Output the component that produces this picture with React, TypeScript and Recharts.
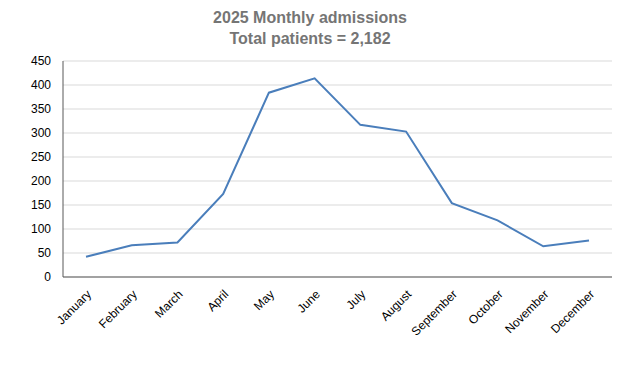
import React from "react";
import { CartesianGrid, Line, LineChart, XAxis, YAxis } from "recharts";

const months = [
  "January", "February", "March", "April", "May", "June",
  "July", "August", "September", "October", "November", "December",
];
const admissions = [42, 66, 72, 173, 384, 414, 317, 303, 154, 118, 64, 76];
const yTicks = [0, 50, 100, 150, 200, 250, 300, 350, 400, 450];

const data = months.map((month, i) => ({ month, admissions: admissions[i] }));

const FONT = "'Liberation Sans', Arial, sans-serif";

function MonthTick(props: any) {
  const { x, y, payload } = props;
  return (
    <g transform={`translate(${x + 3},${y + 7})`}>
      <text
        transform="rotate(-45)"
        textAnchor="end"
        dy="0.35em"
        fontSize={12}
        fontFamily={FONT}
        fill="#000"
      >
        {payload.value}
      </text>
    </g>
  );
}

export default function App() {
  return (
    <div style={{ position: "absolute", left: 0, top: 0, width: 620, height: 366, background: "#fff" }}>
      <div
        style={{
          position: "absolute",
          left: 0,
          top: 7,
          width: 620,
          textAlign: "center",
          fontFamily: FONT,
          fontWeight: "bold",
          fontSize: 16,
          lineHeight: "21px",
          color: "#757575",
        }}
      >
        <div>2025 Monthly admissions</div>
        <div>Total patients = 2,182</div>
      </div>
      <LineChart width={620} height={366} data={data} margin={{ top: 61, right: 8, left: 23, bottom: 29 }}>
        <CartesianGrid vertical={false} stroke="#d9d9d9" />
        <XAxis
          dataKey="month"
          interval={0}
          tickLine={false}
          axisLine={{ stroke: "#595959" }}
          tick={<MonthTick />}
          height={60}
          padding={{ left: 23, right: 23 }}
        />
        <YAxis
          domain={[0, 450]}
          ticks={yTicks}
          interval={0}
          width={40}
          tickLine={false}
          tickSize={0}
          tickMargin={12}
          axisLine={{ stroke: "#595959" }}
          tick={{ fontSize: 12, fontFamily: FONT, fill: "#000" }}
        />
        <Line
          type="linear"
          dataKey="admissions"
          stroke="#4a7ebb"
          strokeWidth={2}
          dot={false}
          isAnimationActive={false}
        />
      </LineChart>
    </div>
  );
}
